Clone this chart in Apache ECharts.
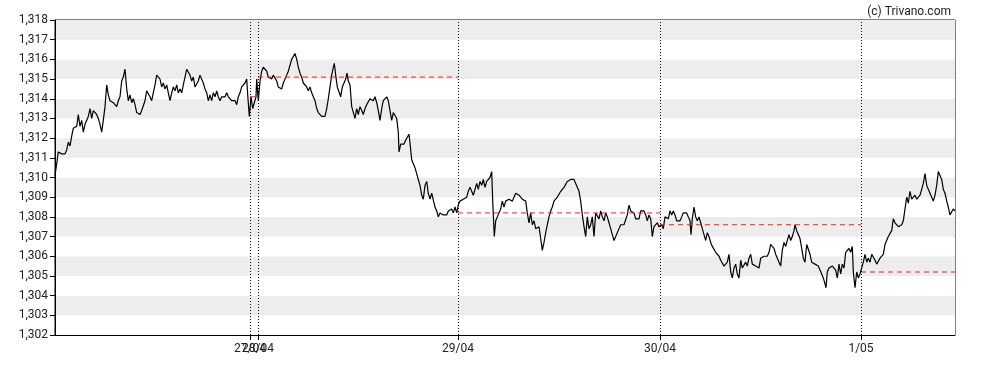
<!DOCTYPE html>
<html><head><meta charset="utf-8">
<script src="https://cdn.jsdelivr.net/npm/echarts@6/dist/echarts.min.js"></script>
<style>html,body{margin:0;padding:0;background:#fff}#c{width:988px;height:370px}</style>
</head><body><div id="c"></div>
<script>
// Trading-time slot positions of day starts and their labels
const dayLabels = ['27/04','28/04','29/04','30/04','1/05'];
const daySlots = [195, 203, 403, 605, 806];
const dayEnds = [203, 403, 605, 806, 900];
// Previous-close reference level for each day
const refLevels = [1.3141, 1.3151, 1.3082, 1.3076, 1.3052];
// Y-axis ticks
const yMin = 1.302, yMax = 1.318, yStep = 0.001;
// Price points [slot, value]
const pricePoints = [
[0,1.3101],[1.7,1.3107],[3.3,1.3113],[5,1.3112],[6.7,1.3112],[8.3,1.3112],[10,1.3112],[11.7,1.3114],[13.3,1.3118],[15,1.3116],
[16.7,1.3121],[18.3,1.3125],[20,1.3124],[21.7,1.3126],[23.3,1.3132],[25,1.3126],[26.7,1.3129],[28.3,1.3123],[30,1.3127],[31.7,1.3128],
[33.3,1.3131],[35,1.3135],[36.7,1.3130],[38.3,1.3134],[40,1.3135],[41.7,1.3132],[43.3,1.3130],[45,1.3127],[46.7,1.3123],[48.3,1.3129],
[50,1.3136],[51.7,1.3147],[53.3,1.3142],[55,1.3139],[56.7,1.3139],[58.3,1.3138],[60,1.3137],[61.7,1.3136],[63.3,1.3139],[65,1.3141],
[66.7,1.3149],[68.3,1.3151],[70,1.3155],[71.7,1.3145],[73.3,1.3139],[75,1.3142],[76.7,1.3138],[78.3,1.3140],[80,1.3137],[81.7,1.3133],
[83.3,1.3132],[85,1.3132],[86.7,1.3134],[88.3,1.3135],[90,1.3139],[91.7,1.3144],[93.3,1.3143],[95,1.3141],[96.7,1.3139],[98.3,1.3143],
[100,1.3147],[101.7,1.3152],[103.3,1.3152],[105,1.3150],[106.7,1.3146],[108.3,1.3148],[110,1.3145],[111.7,1.3147],[113.3,1.3143],[115,1.3139],
[116.7,1.3143],[118.3,1.3146],[120,1.3144],[121.7,1.3147],[123.3,1.3143],[125,1.3145],[126.7,1.3143],[128.3,1.3147],[130,1.3151],[131.7,1.3155],
[133.3,1.3154],[135,1.3152],[136.7,1.3149],[138.3,1.3151],[140,1.3146],[141.7,1.3145],[143.3,1.3149],[145,1.3152],[146.7,1.3153],[148.3,1.3148],
[150,1.3145],[151.7,1.3143],[153.3,1.3139],[155,1.3142],[156.7,1.3139],[158.3,1.3143],[160,1.3141],[161.7,1.3144],[163.3,1.3141],[165,1.3139],
[166.7,1.3141],[168.3,1.3141],[170,1.3141],[171.7,1.3143],[173.3,1.3141],[175,1.3141],[176.7,1.3139],[178.3,1.3139],[180,1.3139],[181.7,1.3137],
[183.3,1.3141],[185,1.3143],[186.7,1.3146],[188.3,1.3147],[190,1.3148],[191.7,1.3150],[192.7,1.3142],[194.3,1.3131],[195,1.3130],[196,1.3141],
[197.7,1.3135],[199.3,1.3135],[201,1.3141],[201.7,1.3150],[202.7,1.3150],[203.3,1.3139],[205,1.3149],[206.7,1.3154],[208.3,1.3156],[210,1.3155],
[211.7,1.3154],[213.3,1.3151],[215,1.3152],[216.7,1.3150],[218.3,1.3152],[220,1.3153],[221.7,1.3149],[223.3,1.3146],[225,1.3147],[226.7,1.3145],
[228.3,1.3148],[230,1.3148],[231.7,1.3152],[233.3,1.3154],[235,1.3157],[236.7,1.3160],[238.3,1.3161],[240,1.3163],[241.7,1.3160],[243.3,1.3156],
[245,1.3153],[246.7,1.3151],[248.3,1.3148],[250,1.3149],[251.7,1.3146],[253.3,1.3144],[255,1.3146],[256.7,1.3143],[258.3,1.3141],[260,1.3139],
[261.7,1.3135],[263.3,1.3133],[265,1.3132],[266.7,1.3131],[268.3,1.3132],[270,1.3131],[271.7,1.3135],[273.3,1.3140],[275,1.3146],[276.7,1.3152],
[278.3,1.3156],[279.3,1.3158],[280.7,1.3152],[282.3,1.3146],[284,1.3146],[285.7,1.3141],[287.3,1.3146],[289,1.3148],[290.7,1.3150],[292,1.3153],
[293.3,1.3149],[295,1.3147],[296.7,1.3136],[298.3,1.3135],[300,1.3130],[301.7,1.3135],[303.3,1.3132],[305,1.3136],[306.7,1.3134],[308.3,1.3132],
[310,1.3135],[311.7,1.3137],[313.3,1.3138],[315,1.3140],[316.7,1.3141],[318.3,1.3139],[320,1.3141],[321.7,1.3138],[323.3,1.3134],[325,1.3129],
[326.7,1.3135],[328.3,1.3139],[330,1.3140],[331.7,1.3141],[333.3,1.3139],[335,1.3134],[336.7,1.3129],[338.3,1.3133],[340,1.3134],[341.7,1.3130],
[343.3,1.3123],[344,1.3113],[345.7,1.3117],[347.3,1.3118],[349,1.3117],[350.7,1.3119],[352.3,1.3120],[354,1.3122],[355.3,1.3116],[356.7,1.3109],
[358.3,1.3107],[360,1.3105],[361.7,1.3104],[363.3,1.3099],[365,1.3096],[366.7,1.3091],[368.3,1.3089],[370,1.3096],[371.7,1.3098],[373.3,1.3092],
[375,1.3089],[376.7,1.3092],[378.3,1.3091],[380,1.3085],[381.7,1.3083],[383.3,1.3080],[385,1.3082],[386.7,1.3081],[388.3,1.3081],[390,1.3082],
[391.7,1.3081],[393.3,1.3083],[395,1.3082],[396.7,1.3084],[398.3,1.3082],[400,1.3085],[401.7,1.3082],[403.3,1.3086],[405,1.3088],[406.7,1.3088],
[408.3,1.3089],[410,1.3088],[411.7,1.3090],[413.3,1.3093],[415,1.3095],[416.7,1.3093],[418.3,1.3091],[420,1.3094],[421.7,1.3097],[423.3,1.3094],
[425,1.3098],[426.7,1.3096],[428.3,1.3099],[430,1.3095],[431.7,1.3098],[433.3,1.3098],[435,1.3100],[436.7,1.3103],[437.7,1.3088],[439.3,1.3070],
[440.7,1.3078],[442.3,1.3080],[444,1.3079],[445.7,1.3084],[447.3,1.3088],[449,1.3085],[450.7,1.3088],[452.3,1.3087],[454,1.3089],[455.7,1.3088],
[457.3,1.3088],[459,1.3090],[460.7,1.3092],[462.3,1.3093],[464,1.3091],[465.7,1.3091],[467.3,1.3089],[469,1.3090],[470.7,1.3088],[472.3,1.3082],
[474,1.3077],[475.7,1.3082],[477.3,1.3076],[479,1.3078],[480.7,1.3074],[482.3,1.3073],[484,1.3075],[485.7,1.3069],[487.3,1.3063],[489,1.3067],
[490.7,1.3072],[492.3,1.3076],[494,1.3080],[495.7,1.3083],[497.3,1.3085],[499,1.3088],[500.7,1.3088],[502.3,1.3090],[504,1.3091],[505.7,1.3093],
[507.3,1.3094],[509,1.3095],[510.7,1.3096],[512.3,1.3098],[514,1.3099],[515.7,1.3099],[517.3,1.3099],[519,1.3099],[520.7,1.3097],[522.3,1.3095],
[524,1.3093],[525.7,1.3088],[527.3,1.3081],[529,1.3075],[530.7,1.3070],[532.3,1.3080],[534,1.3074],[535.7,1.3076],[537.3,1.3080],[539,1.3070],
[540.7,1.3082],[542.3,1.3081],[544,1.3079],[545.7,1.3083],[547.3,1.3080],[549,1.3078],[550.7,1.3082],[552.3,1.3080],[554,1.3077],[555.7,1.3074],
[557.3,1.3071],[559,1.3068],[560.7,1.3070],[562.3,1.3072],[564,1.3073],[565.7,1.3076],[567.3,1.3077],[569,1.3076],[570.7,1.3075],[572.3,1.3081],
[574,1.3086],[575.7,1.3083],[577.3,1.3084],[579,1.3082],[580.7,1.3079],[582.3,1.3078],[584,1.3079],[585.7,1.3083],[587.3,1.3084],[589,1.3083],
[590.7,1.3081],[592.3,1.3078],[594,1.3081],[595.7,1.3079],[597.3,1.3070],[599,1.3075],[600.7,1.3076],[602.3,1.3077],[604,1.3075],[606.7,1.3076],
[608.3,1.3074],[610,1.3080],[611.7,1.3081],[613.3,1.3079],[615,1.3083],[616.7,1.3081],[618.3,1.3083],[620,1.3081],[621.7,1.3078],[623.3,1.3079],
[625,1.3078],[626.7,1.3080],[628.3,1.3082],[630,1.3083],[631.7,1.3082],[633.3,1.3080],[635,1.3078],[636,1.3071],[637.3,1.3079],[639,1.3085],
[640.7,1.3080],[642.3,1.3078],[644,1.3080],[645.7,1.3077],[647.3,1.3074],[649,1.3071],[650.7,1.3068],[652.3,1.3072],[654,1.3070],[655.7,1.3067],
[657.3,1.3065],[659,1.3066],[660.7,1.3062],[662.3,1.3061],[664,1.3060],[665.7,1.3058],[667.3,1.3059],[669,1.3055],[670.7,1.3054],[672.3,1.3057],
[674,1.3061],[675.7,1.3052],[677.3,1.3049],[679,1.3054],[680.7,1.3056],[682.3,1.3051],[684,1.3049],[685.7,1.3058],[687.3,1.3054],[689,1.3053],
[690.7,1.3057],[692.3,1.3055],[694,1.3059],[695.7,1.3061],[697.3,1.3056],[699,1.3057],[700.7,1.3055],[702.3,1.3055],[704,1.3054],[705.7,1.3059],
[707.3,1.3058],[709,1.3060],[710.7,1.3059],[712.3,1.3060],[714,1.3062],[715.7,1.3066],[717.3,1.3065],[719,1.3064],[720.7,1.3061],[722.3,1.3059],
[724,1.3057],[725.7,1.3055],[727.3,1.3063],[729,1.3067],[730.7,1.3065],[732.3,1.3068],[734,1.3071],[735.7,1.3068],[737.3,1.3070],[739,1.3073],
[740,1.3076],[741.7,1.3073],[743.3,1.3074],[745,1.3069],[746.7,1.3064],[748.3,1.3059],[750,1.3057],[751.7,1.3066],[753.3,1.3065],[755,1.3061],
[756.7,1.3057],[758.3,1.3056],[760,1.3056],[761.7,1.3055],[763.3,1.3055],[765,1.3054],[766.7,1.3051],[768.3,1.3049],[770,1.3046],[771,1.3044],
[772.3,1.3052],[774,1.3054],[775.7,1.3053],[777.3,1.3055],[779,1.3056],[780.7,1.3053],[782.3,1.3049],[784,1.3056],[785.7,1.3051],[787.3,1.3056],
[789,1.3054],[790.7,1.3062],[792.3,1.3063],[794,1.3064],[795.7,1.3062],[797.3,1.3065],[798.3,1.3052],[800,1.3044],[801.7,1.3052],[803.3,1.3049],
[805,1.3051],[806.7,1.3050],[808.3,1.3057],[810,1.3061],[811.7,1.3057],[813.3,1.3059],[815,1.3057],[816.7,1.3061],[818.3,1.3060],[820,1.3058],
[821.7,1.3056],[823.3,1.3055],[825,1.3059],[826.7,1.3060],[828.3,1.3061],[830,1.3066],[831.7,1.3066],[833.3,1.3070],[835,1.3069],[836.7,1.3073],
[838.3,1.3079],[840,1.3077],[841.7,1.3077],[843.3,1.3075],[845,1.3074],[846.7,1.3076],[848.3,1.3078],[850,1.3084],[851.7,1.3090],[853.3,1.3087],
[855,1.3093],[856.7,1.3089],[858.3,1.3090],[860,1.3091],[861.7,1.3089],[863.3,1.3090],[865,1.3091],[866.7,1.3094],[868.3,1.3097],[870,1.3102],
[871.7,1.3096],[873.3,1.3094],[875,1.3093],[876.7,1.3090],[878.3,1.3088],[880,1.3091],[881.7,1.3096],[883.3,1.3103],[885,1.3104],[886.7,1.3099],
[888.3,1.3094],[890,1.3092],[891.7,1.3088],[893.3,1.3085],[895,1.3081],[896.7,1.3082],[898.3,1.3084],[900,1.3083]
];

const chart = echarts.init(document.getElementById('c'), null, {renderer:'canvas'});
const FONT = 'Roboto';
const refSeries = refLevels.map((v, i) => ({
  type: 'line', symbol: 'none', silent: true, animation: false,
  data: [[daySlots[i], v], [dayEnds[i], v]],
  lineStyle: {color: '#ff1a1a', width: 1, type: [5, 4]}
}));
// The first label overlaps the second; draw each day label on its own axis so none is hidden
const xAxes = daySlots.map((s, i) => ({
  type: 'value', min: 0, max: 900, position: 'bottom',
  axisLine: {show: i === 0, onZero: false, lineStyle: {color: '#000'}},
  axisTick: {show: true, customValues: [s], length: 5, lineStyle: {color: '#000'}},
  axisLabel: {show: true, customValues: [s], hideOverlap: false, margin: 8, fontFamily: FONT, fontSize: 12, color: '#222',
    formatter: () => dayLabels[i]},
  splitLine: {show: false}
}));
chart.setOption({
  animation: false,
  title: {text: '(c) Trivano.com', right: 32, top: 1,
    textStyle: {fontFamily: FONT, fontSize: 12, fontWeight: 'normal', color: '#222'}},
  grid: {left: 55, right: 33, top: 20, bottom: 35, show: true, borderColor: '#000', borderWidth: 1, backgroundColor: 'transparent'},
  xAxis: xAxes,
  yAxis: {
    type: 'value', min: yMin, max: yMax, interval: yStep,
    axisLine: {show: true, lineStyle: {color: '#000'}},
    axisTick: {show: true, length: 5, lineStyle: {color: '#000'}},
    axisLabel: {fontFamily: FONT, fontSize: 12, color: '#222', margin: 7,
      formatter: v => v.toFixed(3).replace('.', ',')},
    splitLine: {show: false},
    splitArea: {show: true, areaStyle: {color: ['#ffffff', '#ededed']}}
  },
  series: [
    {
      type: 'line', symbol: 'none', animation: false,
      data: pricePoints,
      lineStyle: {color: '#000', width: 1.2},
      markLine: {
        silent: true, symbol: ['none', 'none'], label: {show: false},
        lineStyle: {color: '#000', width: 1, type: [1, 2]},
        data: daySlots.map(s => ({xAxis: s}))
      }
    }
  ].concat(refSeries)
});
</script></body></html>
